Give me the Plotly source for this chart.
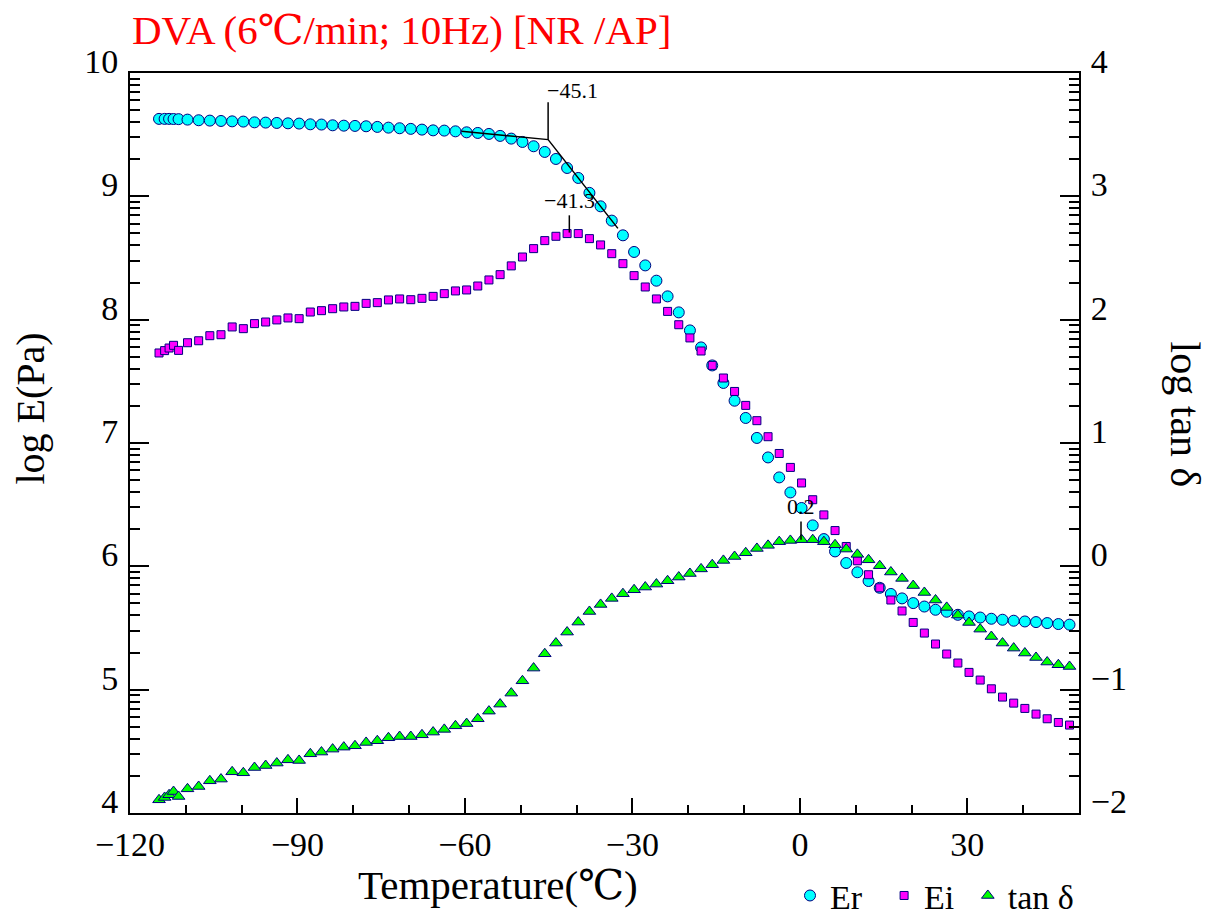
import numpy as np
import plotly.graph_objects as go

# ---------------- data ----------------
temperature_c = [
    -114.8, -113.8, -113.0, -112.2, -111.3,
    -109.7, -107.7, -105.7, -103.7, -101.7, -99.7, -97.7, -95.7, -93.7, -91.7,
    -89.7, -87.7, -85.7, -83.7, -81.7, -79.7, -77.7, -75.7, -73.7, -71.7,
    -69.7, -67.7, -65.7, -63.7, -61.7, -59.7, -57.7, -55.7, -53.7, -51.7,
    -49.7, -47.7, -45.7, -43.7, -41.7, -39.7, -37.7, -35.7, -33.7, -31.7,
    -29.7, -27.7, -25.7, -23.7, -21.7, -19.7, -17.7, -15.7, -13.7, -11.7,
    -9.7, -7.7, -5.7, -3.7, -1.7, 0.3, 2.3, 4.3, 6.3, 8.3,
    10.3, 12.3, 14.3, 16.3, 18.3, 20.3, 22.3, 24.3, 26.3, 28.3,
    30.3, 32.3, 34.3, 36.3, 38.3, 40.3, 42.3, 44.3, 46.3, 48.3,
]

log_er = [
    9.628, 9.628, 9.628, 9.627, 9.626,
    9.622, 9.617, 9.614, 9.611, 9.608, 9.606, 9.600, 9.598, 9.595, 9.592,
    9.590, 9.584, 9.582, 9.576, 9.573, 9.571, 9.568, 9.563, 9.557, 9.552,
    9.547, 9.541, 9.535, 9.533, 9.527, 9.519, 9.514, 9.506, 9.490, 9.468,
    9.441, 9.406, 9.360, 9.303, 9.230, 9.149, 9.028, 8.919, 8.803, 8.684,
    8.549, 8.440, 8.316, 8.189, 8.059, 7.913, 7.775, 7.629, 7.487, 7.343,
    7.203, 7.041, 6.883, 6.721, 6.599, 6.473, 6.332, 6.221, 6.121, 6.027,
    5.952, 5.881, 5.826, 5.776, 5.740, 5.702, 5.674, 5.648, 5.632, 5.607,
    5.594, 5.585, 5.575, 5.567, 5.559, 5.553, 5.548, 5.540, 5.532, 5.527,
]

log_ei = [
    7.730, 7.749, 7.770, 7.792, 7.751,
    7.813, 7.829, 7.870, 7.878, 7.941, 7.927, 7.968, 7.981, 7.998, 8.014,
    8.008, 8.062, 8.073, 8.089, 8.103, 8.108, 8.132, 8.138, 8.160, 8.168,
    8.162, 8.173, 8.189, 8.211, 8.233, 8.241, 8.273, 8.322, 8.365, 8.436,
    8.508, 8.576, 8.641, 8.676, 8.698, 8.698, 8.657, 8.606, 8.535, 8.454,
    8.357, 8.265, 8.168, 8.067, 7.959, 7.852, 7.746, 7.629, 7.527, 7.418,
    7.305, 7.181, 7.051, 6.915, 6.802, 6.676, 6.540, 6.417, 6.290, 6.161,
    6.045, 5.932, 5.826, 5.727, 5.638, 5.545, 5.459, 5.370, 5.289, 5.216,
    5.140, 5.078, 5.007, 4.940, 4.891, 4.848, 4.802, 4.764, 4.734, 4.713,
]

log_tan_delta = [
    -1.893, -1.874, -1.852, -1.826, -1.866,
    -1.804, -1.785, -1.739, -1.725, -1.666, -1.674, -1.631, -1.615, -1.595, -1.569,
    -1.574, -1.520, -1.506, -1.482, -1.466, -1.455, -1.428, -1.414, -1.390, -1.380,
    -1.380, -1.366, -1.344, -1.322, -1.293, -1.275, -1.236, -1.174, -1.117, -1.028,
    -0.928, -0.825, -0.709, -0.622, -0.533, -0.452, -0.366, -0.309, -0.260, -0.222,
    -0.190, -0.168, -0.144, -0.117, -0.087, -0.058, -0.021, 0.013, 0.048, 0.080,
    0.110, 0.145, 0.170, 0.200, 0.210, 0.216, 0.216, 0.200, 0.175, 0.140,
    0.097, 0.053, 0.005, -0.046, -0.098, -0.156, -0.212, -0.273, -0.333, -0.395,
    -0.455, -0.509, -0.569, -0.622, -0.663, -0.703, -0.739, -0.776, -0.798, -0.812,
]

# axis ticks
x_tick_values = [-120, -90, -60, -30, 0, 30]
x_tick_labels = ["\u2212120", "\u221290", "\u221260", "\u221230", "0", "30"]
left_tick_values = [4, 5, 6, 7, 8, 9, 10]
left_tick_labels = ["4", "5", "6", "7", "8", "9", "10"]
right_tick_values = [-2, -1, 0, 1, 2, 3, 4]
right_tick_labels = ["\u22122", "\u22121", "0", "1", "2", "3", "4"]

# analysis marks drawn on the reference (onset tangents and peak markers)
onset_tangent_t = [-60.6, -45.1, -32.6]
onset_tangent_log_e = [9.527, 9.460, 8.74]
onset_t = -45.1
onset_marker_log_e = [9.762, 9.460]
ei_peak_t = -41.3
ei_peak_marker_log_e = [8.846, 8.706]
tan_peak_t = 0.2
tan_peak_marker_log = [0.364, 0.216]

# ---------------- figure ----------------
FONT = "Liberation Serif, DejaVu Serif, serif"
EDGE = "#000080"
NBSP = "\u00a0"

T = np.array(temperature_c)
fig = go.Figure()

fig.add_trace(go.Scatter(
    x=T, y=10 ** np.array(log_er), mode="markers", name="Er" + NBSP * 2,
    marker=dict(symbol="circle", size=11, color="#00FFFF",
                line=dict(color=EDGE, width=1)),
    yaxis="y"))
fig.add_trace(go.Scatter(
    x=T, y=10 ** np.array(log_ei), mode="markers", name="Ei" + NBSP,
    marker=dict(symbol="square", size=8, color="#FF00FF",
                line=dict(color=EDGE, width=1)),
    yaxis="y"))
fig.add_trace(go.Scatter(
    x=T, y=10 ** np.array(log_tan_delta), mode="markers", name="tan \u03b4",
    marker=dict(symbol="triangle-up", size=11, color="#00FF00",
                line=dict(color=EDGE, width=1)),
    yaxis="y2"))

# tangent lines and marker ticks
line_style = dict(color="black", width=1.5)
fig.add_trace(go.Scatter(x=onset_tangent_t, y=10 ** np.array(onset_tangent_log_e),
                         mode="lines", line=line_style, showlegend=False, hoverinfo="skip"))
fig.add_trace(go.Scatter(x=[onset_t, onset_t], y=10 ** np.array(onset_marker_log_e),
                         mode="lines", line=line_style, showlegend=False, hoverinfo="skip"))
fig.add_trace(go.Scatter(x=[ei_peak_t, ei_peak_t], y=10 ** np.array(ei_peak_marker_log_e),
                         mode="lines", line=line_style, showlegend=False, hoverinfo="skip"))
fig.add_trace(go.Scatter(x=[tan_peak_t, tan_peak_t], y=10 ** np.array(tan_peak_marker_log),
                         mode="lines", line=line_style, showlegend=False, hoverinfo="skip",
                         yaxis="y2"))

ann_font = dict(family=FONT, size=22, color="black")
annotations = [
    dict(x=onset_t, y=onset_marker_log_e[0], xref="x", yref="y",
         text="\u221245.1", showarrow=False, xanchor="left", yanchor="bottom",
         font=ann_font, xshift=-3, yshift=-3),
    dict(x=ei_peak_t, y=ei_peak_marker_log_e[0], xref="x", yref="y",
         text="\u221241.3", showarrow=False, xanchor="center", yanchor="bottom",
         font=ann_font),
    dict(x=tan_peak_t, y=tan_peak_marker_log[0], xref="x", yref="y2",
         text="0.2", showarrow=False, xanchor="center", yanchor="bottom",
         font=ann_font),
    dict(x=-0.105, y=0.547, xref="paper", yref="paper", text="log E(Pa)",
         textangle=-90, showarrow=False, xanchor="center", yanchor="middle",
         font=dict(family=FONT, size=40, color="black")),
    dict(x=1.112, y=0.538, xref="paper", yref="paper", text="log tan \u03b4",
         textangle=90, showarrow=False, xanchor="center", yanchor="middle",
         font=dict(family=FONT, size=42, color="black")),
    dict(x=0.388, y=-0.097, xref="paper", yref="paper", text="Temperature(\u2103)",
         showarrow=False, xanchor="center", yanchor="middle",
         font=dict(family=FONT, size=41, color="black")),
]

axis_common = dict(showline=True, linecolor="black", linewidth=2,
                   ticks="inside", tickcolor="black", tickwidth=2,
                   showgrid=False, zeroline=False,
                   tickfont=dict(family=FONT, size=34, color="black"))

fig.update_layout(
    width=1211, height=915,
    margin=dict(l=130, r=132, t=73, b=102, autoexpand=False),
    paper_bgcolor="white", plot_bgcolor="white",
    title=dict(text="DVA (6\u2103/min; 10Hz) [NR /AP]",
               font=dict(family=FONT, size=41, color="#FF0000"),
               x=132 / 1211, xanchor="left", xref="container",
               y=1 - 30 / 915, yanchor="middle", yref="container"),
    xaxis=dict(range=[-120, 50], tickmode="array", tickvals=x_tick_values,
               ticktext=x_tick_labels, ticklen=15, mirror=True,
               ticklabelstandoff=0,
               minor=dict(ticks="inside", ticklen=8, tickwidth=2, dtick=10,
                          tick0=-120, tickcolor="black"),
               **axis_common),
    yaxis=dict(type="log", range=[4, 10], tickmode="array",
               tickvals=[10 ** v for v in left_tick_values], ticktext=left_tick_labels,
               ticklen=19, ticklabelstandoff=3, ticklabelshift=-12,
               minor=dict(ticks="inside", ticklen=10, tickwidth=2, dtick="D1",
                          tickcolor="black"),
               **axis_common),
    yaxis2=dict(type="log", range=[-2, 4], overlaying="y", side="right",
                tickmode="array",
                tickvals=[10 ** v for v in right_tick_values], ticktext=right_tick_labels,
                ticklen=19, ticklabelstandoff=3, ticklabelshift=-12,
                minor=dict(ticks="inside", ticklen=10, tickwidth=2, dtick="D1",
                           tickcolor="black"),
                **axis_common),
    legend=dict(orientation="h", x=1.0, xanchor="right", xref="paper",
                y=-0.112, yanchor="middle", yref="paper",
                font=dict(family=FONT, size=34, color="black"),
                bgcolor="rgba(0,0,0,0)", itemwidth=30, tracegroupgap=0),
    annotations=annotations,
    showlegend=True,
)

fig.write_html("out.html", config={"displayModeBar": False},
               post_script="document.body.style.margin='0px';document.body.style.overflow='hidden';")
